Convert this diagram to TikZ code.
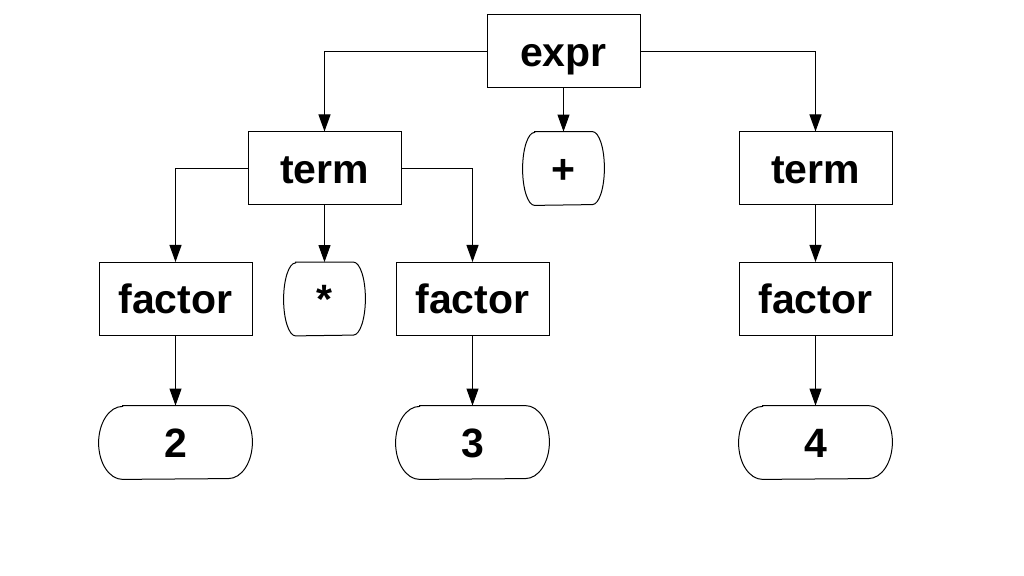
\documentclass[tikz,border=0pt]{standalone}
\usepackage{fontspec}
\setmainfont{Liberation Sans}
\usetikzlibrary{arrows.meta,positioning}

\begin{document}
\begin{tikzpicture}
[x=0.5pt,y=-0.5pt,
NT/.style={draw,line width=0.5pt,inner sep=0pt,minimum width=76.5pt,minimum height=36.5pt,
  text height=15.7pt,text depth=0.7pt,font=\fontsize{20.5}{24}\selectfont\bfseries},
T/.style={inner sep=0pt,minimum height=36.5pt,
  text height=15.7pt,text depth=0.7pt,font=\fontsize{20.5}{24}\selectfont\bfseries},
dedge/.style={line width=0.5pt,-{Triangle[length=8.5pt,width=6pt]}}]
\useasboundingbox (0,0) rectangle (1024,576);
%%
%%%%%%%%%%%%%%%%%%
% nonterminals
%%%%%%%%%%%%%%%%%%
\node[NT] (expr) at (563.5,51.5) {expr};
\node[NT] (termL) at (324.5,168.5) {term};
\node[NT] (termR) at (815.5,168.5) {term};
\node[NT] (factorL) at (175.5,299) {factor};
\node[NT] (factorM) at (472.5,299) {factor};
\node[NT] (factorR) at (815.5,299) {factor};
%%
%%%%%%%%%%%%%%%%%%
% terminals
%%%%%%%%%%%%%%%%%%
\node[T,minimum width=28.5pt] (plus) at (563.5,168.5) {+};
\node[T,minimum width=28.5pt] (times) at (324.5,299) {*};
\node[T,minimum width=52.5pt] (two) at (175.5,442.5) {2};
\node[T,minimum width=52.5pt] (three) at (472.5,442.5) {3};
\node[T,minimum width=52.5pt] (four) at (815.5,442.5) {4};
%% outlines
\foreach \n/\r in {plus/6pt,times/6pt,two/12pt,three/12pt,four/12pt}
  \draw[line width=0.5pt] (\n.north west) -- (\n.north east)
    arc[start angle=90,end angle=-90,x radius=\r,y radius=18.25pt]
    -- (\n.south west)
    arc[start angle=270,end angle=90,x radius=\r,y radius=18.25pt] -- cycle;
%%
%%%%%%%%%%%%%%%%%%
% edges
%%%%%%%%%%%%%%%%%%
\draw[dedge] (expr.west) -| (termL.north);
\draw[dedge] (expr.south) -- (plus.north);
\draw[dedge] (expr.east) -| (termR.north);
%%
\draw[dedge] (termL.west) -| (factorL.north);
\draw[dedge] (termL.south) -- (times.north);
\draw[dedge] (termL.east) -| (factorM.north);
\draw[dedge] (termR.south) -- (factorR.north);
%%
\draw[dedge] (factorL.south) -- (two.north);
\draw[dedge] (factorM.south) -- (three.north);
\draw[dedge] (factorR.south) -- (four.north);
%%
\end{tikzpicture}
\end{document}
